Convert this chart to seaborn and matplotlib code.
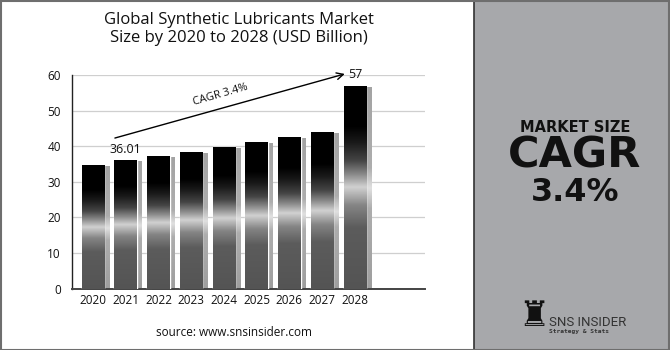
import numpy as np
import pandas as pd
import matplotlib
matplotlib.use("Agg")
import matplotlib.pyplot as plt
import matplotlib.transforms as mtransforms
from matplotlib.colors import LinearSegmentedColormap
from matplotlib.patches import Rectangle
import seaborn as sns

# ---- data ----
years = ["2020", "2021", "2022", "2023", "2024", "2025", "2026", "2027", "2028"]
market_size = [34.8, 36.01, 37.2, 38.5, 39.8, 41.2, 42.6, 44.0, 57.0]
labeled_years = ["2021", "2028"]
y_ticks = [0, 10, 20, 30, 40, 50, 60]
title_text = "Global Synthetic Lubricants Market\nSize by 2020 to 2028 (USD Billion)"
cagr_text = "CAGR 3.4%"
source_text = "source: www.snsinsider.com"

df = pd.DataFrame({"year": years, "value": market_size})

sns.set_theme(style="white")
plt.rcParams["font.family"] = ["Open Sans", "DejaVu Sans"]

W, H = 670, 350
fig = plt.figure(figsize=(W / 100, H / 100), dpi=100)
fig.patch.set_facecolor("white")

# right grey panel
fig.add_artist(Rectangle((473.5 / W, 0), 1 - 473.5 / W, 1, transform=fig.transFigure,
                         facecolor="#a7a8ab", edgecolor="none", zorder=0))
fig.add_artist(plt.Line2D([473.5 / W, 473.5 / W], [0, 1], transform=fig.transFigure,
                          color="#333333", lw=1.2, zorder=1))
# outer frame
fig.add_artist(Rectangle((0.5 / W, 0.5 / H), 1 - 1.5 / W, 1 - 1.5 / H, transform=fig.transFigure,
                         facecolor="none", edgecolor="#6e6e6e", lw=1.5, zorder=5))

ax = fig.add_axes([72 / W, 1 - 288.7 / H, (425 - 72) / W, (288.7 - 75) / H])
ax.set_facecolor("none")

sns.barplot(data=df, x="year", y="value", color="black", width=0.69,
            ax=ax, zorder=3, errorbar=None, saturation=1)

# gradient colormaps
main_cmap = LinearSegmentedColormap.from_list("bar", [
    (0.00, (0.33, 0.33, 0.33)), (0.30, (0.36, 0.36, 0.36)),
    (0.41, (0.52, 0.52, 0.52)), (0.50, (0.82, 0.82, 0.82)),
    (0.56, (0.55, 0.55, 0.55)), (0.63, (0.27, 0.27, 0.27)),
    (0.72, (0.10, 0.10, 0.10)), (0.80, (0.0, 0.0, 0.0)),
    (1.00, (0.0, 0.0, 0.0))])
shadow_cmap = LinearSegmentedColormap.from_list("shadow", [
    (0.0, (0.62, 0.62, 0.62)), (0.40, (0.68, 0.68, 0.68)),
    (0.50, (0.88, 0.88, 0.88)), (0.60, (0.68, 0.68, 0.68)),
    (1.0, (0.64, 0.64, 0.64))])
grad = np.linspace(0, 1, 256).reshape(-1, 1)

shadow_tr = ax.transData + mtransforms.ScaledTranslation(5 / 100, -1 / 100, fig.dpi_scale_trans)

for p in list(ax.patches):
    x0, w, h = p.get_x(), p.get_width(), p.get_height()
    # shadow
    sh = Rectangle((x0, 0), w, h, transform=shadow_tr, facecolor="#a5a5a5",
                   edgecolor="none", zorder=2)
    ax.add_patch(sh)
    im_s = ax.imshow(grad, cmap=shadow_cmap, extent=(x0, x0 + w, 0, h), origin="lower",
                     aspect="auto", zorder=2, interpolation="bilinear")
    im_s.set_transform(shadow_tr)
    im_s.set_clip_path(sh)
    # main gradient
    im = ax.imshow(grad, cmap=main_cmap, extent=(x0, x0 + w, 0, h), origin="lower",
                   aspect="auto", zorder=4, interpolation="bilinear")
    im.set_clip_path(p)

ax.set_xlim(-0.64, 10.14)
ax.set_ylim(0, 60)
ax.set_yticks(y_ticks)
ax.yaxis.grid(True, color="#cfcfcf", lw=0.9, zorder=0)
ax.set_axisbelow(True)
ax.set_xlabel("")
ax.set_ylabel("")
for s in ["top", "right"]:
    ax.spines[s].set_visible(False)
ax.spines["left"].set_color("#222222")
ax.spines["left"].set_linewidth(1.0)
ax.spines["bottom"].set_color("#444444")
ax.spines["bottom"].set_linewidth(1.4)
ax.tick_params(axis="y", length=0, pad=8, labelsize=8.5, labelcolor="#111111")
ax.tick_params(axis="x", length=0, pad=4, labelsize=8.5, labelcolor="#111111")

# value labels
for i, (yr, v) in enumerate(zip(years, market_size)):
    if yr in labeled_years:
        ax.annotate(f"{v:g}", xy=(i, v), xytext=(0, 8), textcoords="offset points",
                    ha="center", va="center", fontsize=9, color="#111111",
                    annotation_clip=False, zorder=6)

# CAGR arrow
i_start = years.index("2021")
i_end = years.index("2028")
ax.annotate("", xy=(i_end - 0.31, 60.3), xytext=(i_start - 0.33, 42.3),
            arrowprops=dict(arrowstyle="->", lw=1.0, color="black", shrinkA=0, shrinkB=0),
            annotation_clip=False, zorder=6)
ax.text(3.88, 54.4, cagr_text, rotation=16, ha="center", va="center",
        fontsize=8, color="#111111", rotation_mode="anchor", zorder=6)

# title and source
fig.text(239 / W, 1 - 29 / H, title_text, ha="center", va="center", fontsize=12,
         color="#111111", linespacing=1.15)
fig.text(234 / W, 1 - 332 / H, source_text, ha="center", va="center", fontsize=8.5,
         color="#111111")

# right panel texts
fig.text(575 / W, 1 - 128 / H, "MARKET SIZE", ha="center", va="center", fontsize=10.5,
         fontweight="bold", color="#111111", family="DejaVu Sans")
fig.text(575 / W, 1 - 156 / H, "CAGR", ha="center", va="center", fontsize=31,
         fontweight="bold", color="#111111", family="DejaVu Sans")
fig.text(575 / W, 1 - 193 / H, "3.4%", ha="center", va="center", fontsize=23,
         fontweight="bold", color="#111111", family="DejaVu Sans")

# logo
fig.text(534 / W, 1 - 316 / H, "\u265c", ha="center", va="center", fontsize=25,
         color="#111111", family="DejaVu Sans")
fig.text(549 / W, 1 - 322 / H, "SNS INSIDER", ha="left", va="center", fontsize=9.5,
         color="#333333", family="Roboto")
fig.text(549 / W, 1 - 332 / H, "Strategy & Stats", ha="left", va="center", fontsize=4.5,
         fontweight="bold", color="#333333", family="DejaVu Sans Mono")

fig.savefig("out.png", dpi=100, facecolor="white")
